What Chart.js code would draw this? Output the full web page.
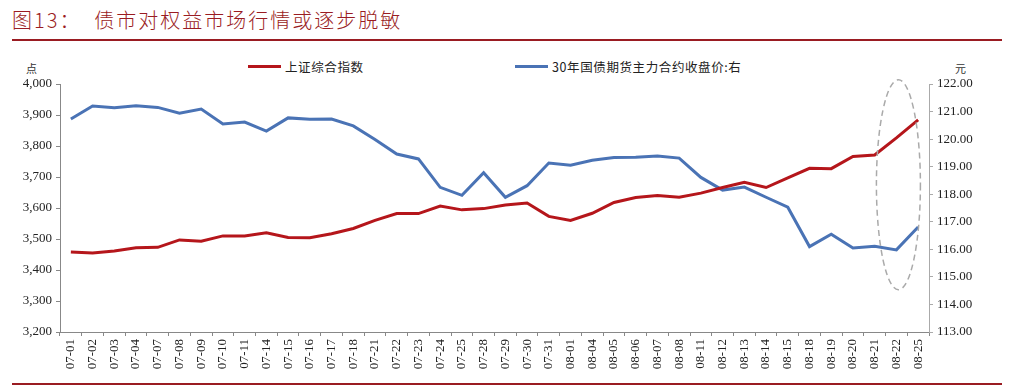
<!DOCTYPE html>
<html>
<head>
<meta charset="utf-8">
<script src="https://cdn.jsdelivr.net/npm/chart.js@4.4.1/dist/chart.umd.min.js"></script>
<style>
  html, body { margin: 0; padding: 0; background: #fff; }
  #wrap { position: relative; width: 1020px; height: 389px; overflow: hidden; }
  #title { position: absolute; left: 12px; top: 5px; font-family: "Noto Sans CJK SC", sans-serif; font-weight: 300; font-size: 20px; color: #9a1c22; letter-spacing: 2px; }
  .rule { position: absolute; left: 12px; width: 990px; height: 2px; background: #9a1c22; }
  .unit { position: absolute; font-family: "Noto Sans CJK SC", sans-serif; font-size: 11px; color: #333; }
  .leg { position: absolute; top: 57px; font-family: "Noto Sans CJK SC", sans-serif; font-size: 12.5px; color: #222; display: flex; align-items: center; letter-spacing: 0.6px; }
  .leg span.sw { display: inline-block; width: 33px; height: 3px; margin-right: 4px; }
  #fontwarm { position: absolute; left: -200px; top: 0; font-family: "Liberation Serif"; font-size: 13px; }
  canvas { position: absolute; left: 0; top: 0; }
</style>
</head>
<body>
<div id="wrap">
  <div id="fontwarm">0123456789,.-</div>
  <div id="title">图13：&nbsp;&nbsp;债市对权益市场行情或逐步脱敏</div>
  <div class="rule" style="top:39px"></div>
  <div class="rule" style="top:383px"></div>
  <div class="unit" style="left:26px;top:60px">点</div>
  <div class="unit" style="left:955px;top:60px">元</div>
  <div class="leg" style="left:248px"><span class="sw" style="background:#b5161b"></span>上证综合指数</div>
  <div class="leg" style="left:515px"><span class="sw" style="background:#4a73b5"></span>30年国债期货主力合约收盘价:右</div>
  <canvas id="myChart" width="1020" height="389"></canvas>
</div>
<script>
// categories (trading days)
const dates = ['07-01', '07-02', '07-03', '07-04', '07-07', '07-08', '07-09', '07-10', '07-11', '07-14',
  '07-15', '07-16', '07-17', '07-18', '07-21', '07-22', '07-23', '07-24', '07-25', '07-28',
  '07-29', '07-30', '07-31', '08-01', '08-04', '08-05', '08-06', '08-07', '08-08', '08-11',
  '08-12', '08-13', '08-14', '08-15', '08-18', '08-19', '08-20', '08-21', '08-22', '08-25'];

// 上证综合指数 (left axis)
const shIndex = [3458, 3455, 3461, 3472, 3473, 3497, 3493, 3510, 3510, 3520,
  3505, 3504, 3517, 3534, 3560, 3582, 3582, 3606, 3594, 3598,
  3610, 3616, 3573, 3560, 3583, 3618, 3634, 3640, 3635, 3648,
  3666, 3683, 3666, 3697, 3728, 3727, 3766, 3771, 3826, 3884];

// 30年国债期货主力合约收盘价 (right axis)
const bondFut = [120.73, 121.20, 121.14, 121.21, 121.15, 120.94, 121.09, 120.55, 120.62, 120.29,
  120.77, 120.72, 120.73, 120.48, 119.99, 119.46, 119.28, 118.25, 117.96, 118.78,
  117.89, 118.31, 119.13, 119.05, 119.23, 119.33, 119.34, 119.39, 119.31, 118.61,
  118.15, 118.26, 117.89, 117.53, 116.10, 116.55, 116.05, 116.11, 115.98, 116.81];

// axis ranges
const leftMin = 3200, leftMax = 4000, leftStep = 100;
const rightMin = 113, rightMax = 122, rightStep = 1;

// dashed ellipse around the last days
const ellipse = {
  id: 'ellipse',
  afterDraw(chart) {
    const ctx = chart.ctx;
    const yl = chart.scales.y, x = chart.scales.x;
    const cx = x.getPixelForValue(38) + 2;
    const cy = yl.getPixelForValue(3675);
    ctx.save();
    ctx.strokeStyle = '#aaa';
    ctx.lineWidth = 1.5;
    ctx.setLineDash([6, 4]);
    ctx.beginPath();
    ctx.ellipse(cx, cy, 22, 105, 0, 0, Math.PI * 2);
    ctx.stroke();
    ctx.restore();
  }
};

const serif = "'Liberation Serif', serif";
const tickFont = { family: serif, size: 13 };

function drawChart() {
  return new Chart(document.getElementById('myChart'), {
    type: 'line',
    data: {
      labels: dates,
      datasets: [
        {
          label: '上证综合指数',
          data: shIndex,
          borderColor: '#b5161b',
          borderWidth: 3,
          pointRadius: 0,
          tension: 0,
          yAxisID: 'y'
        },
        {
          label: '30年国债期货主力合约收盘价:右',
          data: bondFut,
          borderColor: '#4a73b5',
          borderWidth: 3,
          pointRadius: 0,
          tension: 0,
          yAxisID: 'y1'
        }
      ]
    },
    options: {
      responsive: false,
      animation: false,
      layout: { padding: { top: 84, left: 0, right: 0, bottom: 0 } },
      plugins: {
        legend: { display: false },
        tooltip: { enabled: false }
      },
      scales: {
        x: {
          offset: true,
          grid: { display: true, offset: true, drawOnChartArea: false, tickLength: 4, color: '#888' },
          border: { color: '#888' },
          ticks: {
            autoSkip: false, minRotation: 90, maxRotation: 90,
            font: { family: serif, size: 13 },
            color: '#222', padding: 3
          },
          afterFit(s) { s.height = 57; }
        },
        y: {
          position: 'left',
          min: leftMin, max: leftMax,
          grid: { display: true, drawOnChartArea: false, tickLength: 4, color: '#888' },
          border: { color: '#888' },
          ticks: {
            stepSize: leftStep, font: tickFont, color: '#222', padding: 4,
            callback: v => v.toLocaleString('en-US')
          },
          afterFit(s) { s.width = 60; }
        },
        y1: {
          position: 'right',
          min: rightMin, max: rightMax,
          grid: { display: true, drawOnChartArea: false, tickLength: 4, color: '#aaa' },
          border: { color: '#aaa' },
          ticks: {
            stepSize: rightStep, font: tickFont, color: '#222', padding: 4,
            callback: v => v.toFixed(2)
          },
          afterFit(s) { s.width = 91; }
        }
      }
    },
    plugins: [ellipse]
  });
}

let myChart;
if (document.fonts && document.fonts.load) {
  document.fonts.load("13px 'Liberation Serif'").then(() => { myChart = drawChart(); }, () => { myChart = drawChart(); });
} else {
  myChart = drawChart();
}
</script>
</body>
</html>
